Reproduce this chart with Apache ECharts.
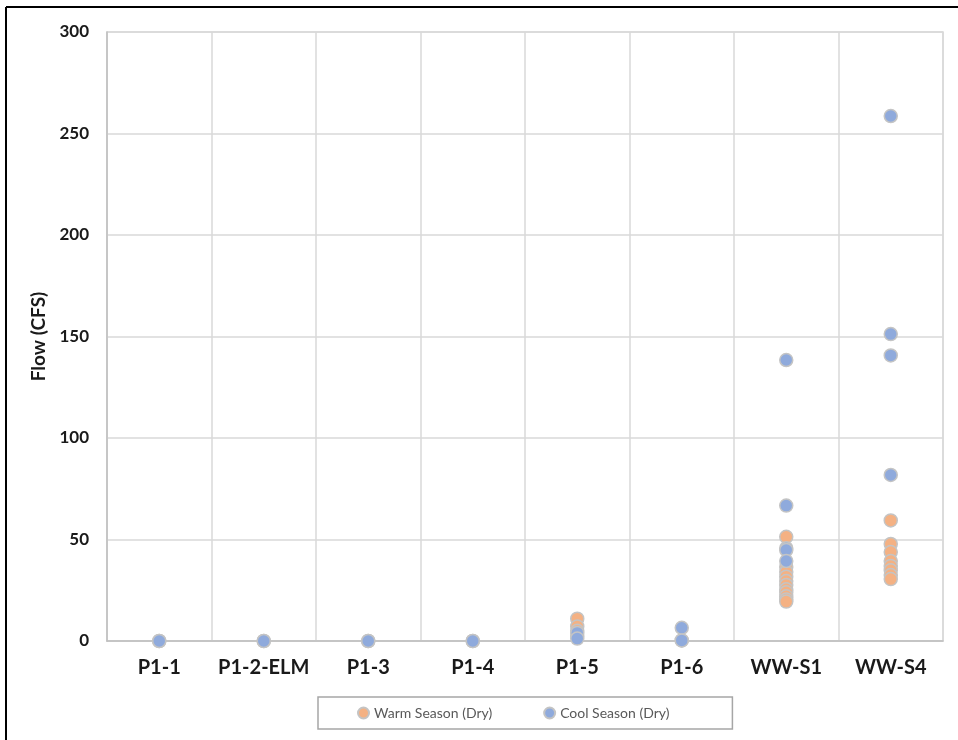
<!DOCTYPE html>
<html><head><meta charset="utf-8">
<script src="https://cdn.jsdelivr.net/npm/echarts@6/dist/echarts.min.js"></script>
<style>html,body{margin:0;padding:0;background:#fff}#c{width:958px;height:740px}</style>
</head><body><div id="c"></div>
<script>
const categories = ['P1-1','P1-2-ELM','P1-3','P1-4','P1-5','P1-6','WW-S1','WW-S4'];
const yTicks = [0, 50, 100, 150, 200, 250, 300];
// values per site
const warmP1_1 = [0];
const warmP1_2 = [0];
const warmP1_3 = [0];
const warmP1_4 = [0];
const warmP1_5 = [11, 7.2, 5, 2.5];
const warmP1_6 = [0.3];
const warmWWS1 = [51.3, 36.5, 34, 31.7, 29.5, 27.6, 25.5, 24, 22, 20.5, 19.4];
const warmWWS4 = [59.4, 47.8, 43.8, 39.4, 37, 34.8, 32.5, 30.5];
const coolP1_1 = [0];
const coolP1_2 = [0];
const coolP1_3 = [0];
const coolP1_4 = [0];
const coolP1_5 = [4, 1.2];
const coolP1_6 = [6.5, 0.3];
const coolWWS1 = [138.4, 66.7, 45.7, 44.8, 39.4];
const coolWWS4 = [258.6, 151.2, 140.7, 81.8];

const warmAll = [warmP1_1, warmP1_2, warmP1_3, warmP1_4, warmP1_5, warmP1_6, warmWWS1, warmWWS4];
const coolAll = [coolP1_1, coolP1_2, coolP1_3, coolP1_4, coolP1_5, coolP1_6, coolWWS1, coolWWS4];
function toPairs(all){
  const out = [];
  all.forEach((vals, i) => vals.forEach(v => out.push([categories[i], v])));
  return out;
}
const FONT = 'Lato';
const chart = echarts.init(document.getElementById('c'), null, {renderer:'canvas'});
chart.setOption({
  backgroundColor: '#fff',
  animation: false,
  grid: {left: 107, top: 32, right: 15, bottom: 99, show: true, borderColor: '#d9d9d9', borderWidth: 1.5},
  xAxis: {
    type: 'category', data: categories, boundaryGap: true,
    axisLine: {show: true, lineStyle: {color: '#bfbfbf', width: 1.5}},
    axisTick: {show: false},
    splitLine: {show: true, lineStyle: {color: '#d9d9d9', width: 1.5}},
    axisLabel: {color: '#1a1a1a', fontFamily: FONT, fontWeight: 'bold', fontSize: 20, margin: 17, interval: 0}
  },
  yAxis: {
    type: 'value', min: yTicks[0], max: yTicks[yTicks.length-1], interval: yTicks[1]-yTicks[0],
    name: 'Flow (CFS)', nameLocation: 'middle', nameGap: 56, nameRotate: 90,
    nameTextStyle: {color: '#1a1a1a', fontFamily: FONT, fontWeight: 'bold', fontSize: 19},
    axisLine: {show: true, lineStyle: {color: '#bfbfbf', width: 1.5}},
    axisTick: {show: false},
    splitLine: {show: true, lineStyle: {color: '#d9d9d9', width: 1.5}},
    axisLabel: {color: '#1a1a1a', fontFamily: FONT, fontWeight: 'bold', fontSize: 17, margin: 18}
  },
  legend: {
    left: 318, top: 697,
    padding: [9, 63, 9, 39], itemGap: 51,
    borderColor: '#a6a6a6', borderWidth: 1.5,
    itemWidth: 11, itemHeight: 11,
    textStyle: {color: '#595959', fontFamily: FONT, fontSize: 14},
    data: [{name: 'Warm Season (Dry)', icon: 'circle'}, {name: 'Cool Season (Dry)', icon: 'circle'}]
  },
  series: [
    {name: 'Warm Season (Dry)', type: 'scatter', symbolSize: 13, data: toPairs(warmAll),
     itemStyle: {color: '#F4B183', borderColor: '#c4c4c4', borderWidth: 1.5, opacity: 1}},
    {name: 'Cool Season (Dry)', type: 'scatter', symbolSize: 13, data: toPairs(coolAll),
     itemStyle: {color: '#8FAADC', borderColor: '#c4c4c4', borderWidth: 1.5, opacity: 1}}
  ],
  graphic: [
    {type: 'line', shape: {x1: 6, y1: 7, x2: 958, y2: 7}, style: {stroke: '#000', lineWidth: 2}},
    {type: 'line', shape: {x1: 6, y1: 7, x2: 6, y2: 740}, style: {stroke: '#000', lineWidth: 2}}
  ]
});
</script></body></html>
